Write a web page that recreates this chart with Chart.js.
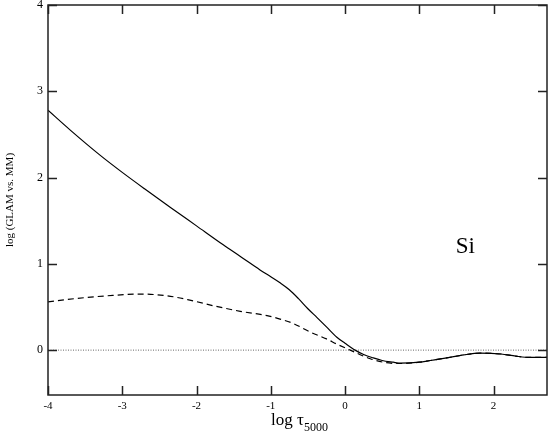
<!DOCTYPE html>
<html>
<head>
<meta charset="utf-8">
<script src="https://cdn.jsdelivr.net/npm/chart.js@4/dist/chart.umd.min.js"></script>
<style>
html,body{margin:0;padding:0;background:#fff;}
#wrap{width:548px;height:439px;position:relative;}
</style>
</head>
<body>
<div id="wrap"><canvas id="c" width="548" height="439"></canvas></div>
<script>
const xTicks = [-4, -3, -2, -1, 0, 1, 2];
const yTicks = [0, 1, 2, 3, 4];

const solidX = [-4, -3.7, -3.3, -3.0, -2.7, -2.36, -2.0, -1.64, -1.4, -1.145, -1.0, -0.875, -0.75, -0.63, -0.5, -0.38, -0.25, -0.11, 0, 0.135, 0.25, 0.38, 0.5, 0.65, 0.74, 1.0, 1.15, 1.37, 1.6, 1.82, 2.1, 2.3, 2.49, 2.72];
const solidY = [2.78, 2.55, 2.26, 2.06, 1.87, 1.66, 1.44, 1.22, 1.08, 0.93, 0.85, 0.78, 0.70, 0.60, 0.48, 0.38, 0.27, 0.15, 0.08, 0.0, -0.05, -0.09, -0.12, -0.14, -0.15, -0.14, -0.12, -0.09, -0.055, -0.035, -0.045, -0.07, -0.085, -0.085];

const dashX = [-4, -3.6, -3.2, -2.76, -2.4, -2.09, -1.75, -1.41, -1.05, -0.875, -0.7, -0.47, -0.25, -0.11, 0.07, 0.34, 0.55, 0.74, 1.0, 1.15, 1.37, 1.6, 1.82, 2.1, 2.3, 2.49, 2.72];
const dashY = [0.56, 0.60, 0.63, 0.65, 0.63, 0.58, 0.51, 0.45, 0.40, 0.36, 0.31, 0.21, 0.13, 0.07, 0.0, -0.10, -0.145, -0.155, -0.14, -0.12, -0.09, -0.055, -0.035, -0.045, -0.07, -0.085, -0.085];

const zeroX = [-4, 2.72];
const zeroY = [0, 0];

const xRange = [-4, 2.72];
const yRange = [-0.52, 4];

const pts = (xs, ys) => xs.map((x, i) => ({x: x, y: ys[i]}));

const framePlugin = {
  id: 'frame',
  afterDraw(chart) {
    const ctx = chart.ctx;
    const a = chart.chartArea;
    const xs = chart.scales.x, ys = chart.scales.y;
    ctx.save();
    ctx.strokeStyle = '#222';
    ctx.lineWidth = 1.5;
    ctx.strokeRect(a.left, a.top, a.right - a.left, a.bottom - a.top);
    const L = 9;
    ctx.lineWidth = 1.5;
    ctx.beginPath();
    xTicks.forEach(v => {
      const p = Math.round(xs.getPixelForValue(v)) + 0.5;
      ctx.moveTo(p, a.bottom); ctx.lineTo(p, a.bottom - L);
      ctx.moveTo(p, a.top); ctx.lineTo(p, a.top + L);
    });
    yTicks.forEach(v => {
      const p = Math.round(ys.getPixelForValue(v)) + 0.5;
      ctx.moveTo(a.left, p); ctx.lineTo(a.left + L, p);
      ctx.moveTo(a.right, p); ctx.lineTo(a.right - L, p);
    });
    ctx.stroke();

    // x axis title with subscript
    ctx.fillStyle = '#000';
    ctx.textBaseline = 'alphabetic';
    const cx = (a.left + a.right) / 2;
    ctx.font = '17px "Liberation Serif"';
    const main = 'log \u03C4';
    const wMain = ctx.measureText(main).width;
    ctx.font = '12px "Liberation Serif"';
    const sub = '5000';
    const wSub = ctx.measureText(sub).width;
    const start = cx - (wMain + wSub) / 2 + 2;
    ctx.font = '17px "Liberation Serif"';
    ctx.textAlign = 'left';
    ctx.fillText(main, start, 425);
    ctx.font = '12px "Liberation Serif"';
    ctx.fillText(sub, start + wMain, 431);

    // Si label
    ctx.font = '23px "Liberation Serif"';
    ctx.textAlign = 'center';
    ctx.fillText('Si', xs.getPixelForValue(1.62), ys.getPixelForValue(1.13));
    ctx.restore();
  }
};

new Chart(document.getElementById('c'), {
  type: 'scatter',
  data: {
    datasets: [
      {data: pts(zeroX, zeroY), showLine: true, borderColor: '#666', borderWidth: 1, borderDash: [1, 1.5], pointRadius: 0, order: 3},
      {data: pts(dashX, dashY), showLine: true, borderColor: '#000', borderWidth: 1.2, borderDash: [6, 4], pointRadius: 0, cubicInterpolationMode: 'monotone', order: 2},
      {data: pts(solidX, solidY), showLine: true, borderColor: '#000', borderWidth: 1.2, pointRadius: 0, cubicInterpolationMode: 'monotone', order: 1}
    ]
  },
  options: {
    responsive: false,
    animation: false,
    events: [],
    layout: {padding: {top: 5, right: 1, left: 0, bottom: 0}},
    plugins: {legend: {display: false}, tooltip: {enabled: false}},
    scales: {
      x: {
        type: 'linear', min: xRange[0], max: xRange[1],
        afterBuildTicks: s => { s.ticks = xTicks.map(v => ({value: v})); },
        afterFit: s => { s.height = 44; s.paddingLeft = 0; s.paddingRight = 0; },
        grid: {display: false, drawTicks: false},
        border: {display: false},
        ticks: {padding: 5, color: '#000', font: {family: '"Liberation Serif"', size: 11}, maxRotation: 0}
      },
      y: {
        type: 'linear', min: yRange[0], max: yRange[1],
        afterBuildTicks: s => { s.ticks = yTicks.map(v => ({value: v})); },
        afterFit: s => { s.width = 48; s.paddingTop = 0; s.paddingBottom = 0; },
        grid: {display: false, drawTicks: false},
        border: {display: false},
        ticks: {padding: 5, color: '#000', font: {family: '"Liberation Serif"', size: 12}},
        title: {display: true, text: 'log (GLAM vs. MM)', color: '#000', font: {family: '"Liberation Serif"', size: 11}, padding: {top: 4, bottom: 0}}
      }
    }
  },
  plugins: [framePlugin]
});
</script>
</body>
</html>
